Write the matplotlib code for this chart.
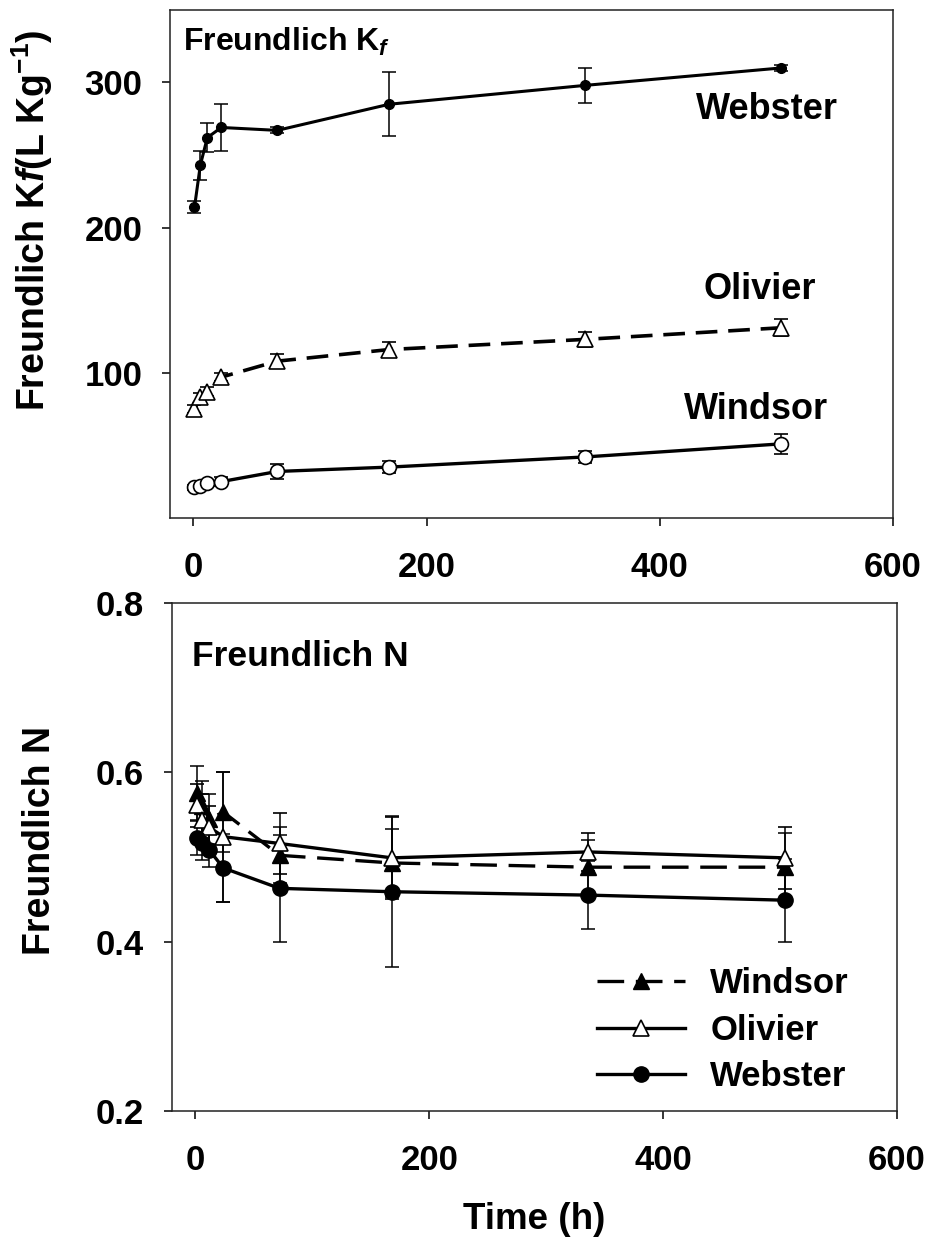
import matplotlib
matplotlib.use("Agg")
import matplotlib.pyplot as plt

plt.rcParams['font.family'] = ['Liberation Sans', 'DejaVu Sans']
plt.rcParams['font.weight'] = 'bold'
plt.rcParams['mathtext.fontset'] = 'custom'
plt.rcParams['mathtext.rm'] = 'Liberation Sans:bold'
plt.rcParams['mathtext.bf'] = 'Liberation Sans:bold'
plt.rcParams['mathtext.it'] = 'Liberation Sans:italic:bold'

# sampling times (h)
times = [1, 6, 12, 24, 72, 168, 336, 504]

# Freundlich Kf (L/kg)
kf_webster = [214, 243, 262, 269, 267, 285, 298, 310]
kf_webster_err = [4, 10, 10, 16, 2, 22, 12, 2]
kf_olivier = [75, 83, 87, 97, 108, 116, 123, 131]
kf_olivier_err = [3, 3, 3, 3, 5, 5, 5, 6]
kf_windsor = [21, 22, 24, 25, 32, 35, 42, 51]
kf_windsor_err = [2, 2, 2, 3, 5, 4, 4, 7]

# Freundlich N
n_windsor = [0.576, 0.560, 0.545, 0.553, 0.502, 0.493, 0.488, 0.488]
n_windsor_err = [0.032, 0.030, 0.030, 0.047, 0.033, 0.040, 0.032, 0.040]
n_olivier = [0.561, 0.544, 0.535, 0.524, 0.516, 0.499, 0.506, 0.499]
n_olivier_err = [0.025, 0.030, 0.025, 0.077, 0.036, 0.048, 0.022, 0.037]
n_webster = [0.522, 0.516, 0.508, 0.487, 0.463, 0.459, 0.455, 0.449]
n_webster_err = [0.020, 0.020, 0.020, 0.040, 0.063, 0.089, 0.040, 0.049]

fig = plt.figure(figsize=(9.31, 12.39), dpi=100)
ax1 = fig.add_axes([0.1826, 0.582, 0.7765, 0.410])
ax2 = fig.add_axes([0.1847, 0.1033, 0.7787, 0.410])

fs_tick = 25
fs_lab = 27
eb = dict(ecolor='black', elinewidth=1.1, capsize=5, capthick=1.1, color='black')

# ---- top panel: Kf
ax1.errorbar(times, kf_webster, yerr=kf_webster_err, marker='o', ms=7, mfc='black',
             mec='black', lw=2.2, **eb)
ax1.errorbar(times, kf_olivier, yerr=kf_olivier_err, marker='^', ms=11, mfc='white',
             mec='black', mew=1.2, lw=2.6, dashes=(6, 3), **eb)
ax1.errorbar(times, kf_windsor, yerr=kf_windsor_err, marker='o', ms=10, mfc='white',
             mec='black', mew=1.2, lw=2.4, **eb)
ax1.set_xlim(-20, 600)
ax1.set_ylim(0, 350)
ax1.set_yticks([100, 200, 300])
ax1.set_xticks([0, 200, 400, 600])
ax1.set_ylabel(r'Freundlich K$\mathit{f}$(L Kg$^{-1}$)', fontsize=fs_lab, fontweight='bold')
ax1.yaxis.set_label_coords(-0.159, 0.585)
ax1.text(0.018, 0.937, r'Freundlich K$_{\mathit{f}}$', transform=ax1.transAxes,
         fontsize=23, fontweight='bold', va='center', ha='left')
ax1.text(0.826, 0.803, 'Webster', transform=ax1.transAxes, fontsize=26,
         fontweight='bold', ha='center', va='center')
ax1.text(0.816, 0.449, 'Olivier', transform=ax1.transAxes, fontsize=26,
         fontweight='bold', ha='center', va='center')
ax1.text(0.810, 0.213, 'Windsor', transform=ax1.transAxes, fontsize=26,
         fontweight='bold', ha='center', va='center')

# ---- bottom panel: N
ax2.errorbar(times, n_windsor, yerr=n_windsor_err, marker='^', ms=11, mfc='black',
             mec='black', lw=2.4, dashes=(8, 3.5), label='Windsor', **eb)
ax2.errorbar(times, n_olivier, yerr=n_olivier_err, marker='^', ms=11, mfc='white',
             mec='black', mew=1.2, lw=2.4, label='Olivier', **eb)
ax2.errorbar(times, n_webster, yerr=n_webster_err, marker='o', ms=11, mfc='black',
             mec='black', lw=2.4, label='Webster', **eb)
ax2.set_xlim(-20, 600)
ax2.set_ylim(0.2, 0.8)
ax2.set_yticks([0.2, 0.4, 0.6, 0.8])
ax2.set_yticklabels(['0.2', '0.4', '0.6', '0.8'])
ax2.set_xticks([0, 200, 400, 600])
ax2.set_ylabel('Freundlich N', fontsize=fs_lab, fontweight='bold')
ax2.yaxis.set_label_coords(-0.157, 0.533)
ax2.set_xlabel('Time (h)', fontsize=26.5, fontweight='bold')
ax2.xaxis.set_label_coords(0.5, -0.18)
ax2.text(0.028, 0.894, 'Freundlich N', transform=ax2.transAxes, fontsize=25.5,
         fontweight='bold', va='center', ha='left')

handles, labels = ax2.get_legend_handles_labels()
handles = [h[0] for h in handles]
ax2.legend(handles, labels, loc='upper left', bbox_to_anchor=(0.586, 0.283),
           frameon=False, handlelength=2.55, handletextpad=0.72,
           labelspacing=0.39, borderpad=0, borderaxespad=0, markerscale=1.0,
           prop={'weight': 'bold', 'size': 25})

for ax in (ax1, ax2):
    ax.tick_params(direction='out', length=6, width=1.1, labelsize=fs_tick)
    ax.tick_params(axis='x', pad=18)
    ax.tick_params(axis='y', pad=14)
    for lbl in ax.get_xticklabels() + ax.get_yticklabels():
        lbl.set_fontweight('bold')
    for sp in ax.spines.values():
        sp.set_linewidth(1.1)
        sp.set_color('#222222')

fig.savefig('out.png', dpi=100)
